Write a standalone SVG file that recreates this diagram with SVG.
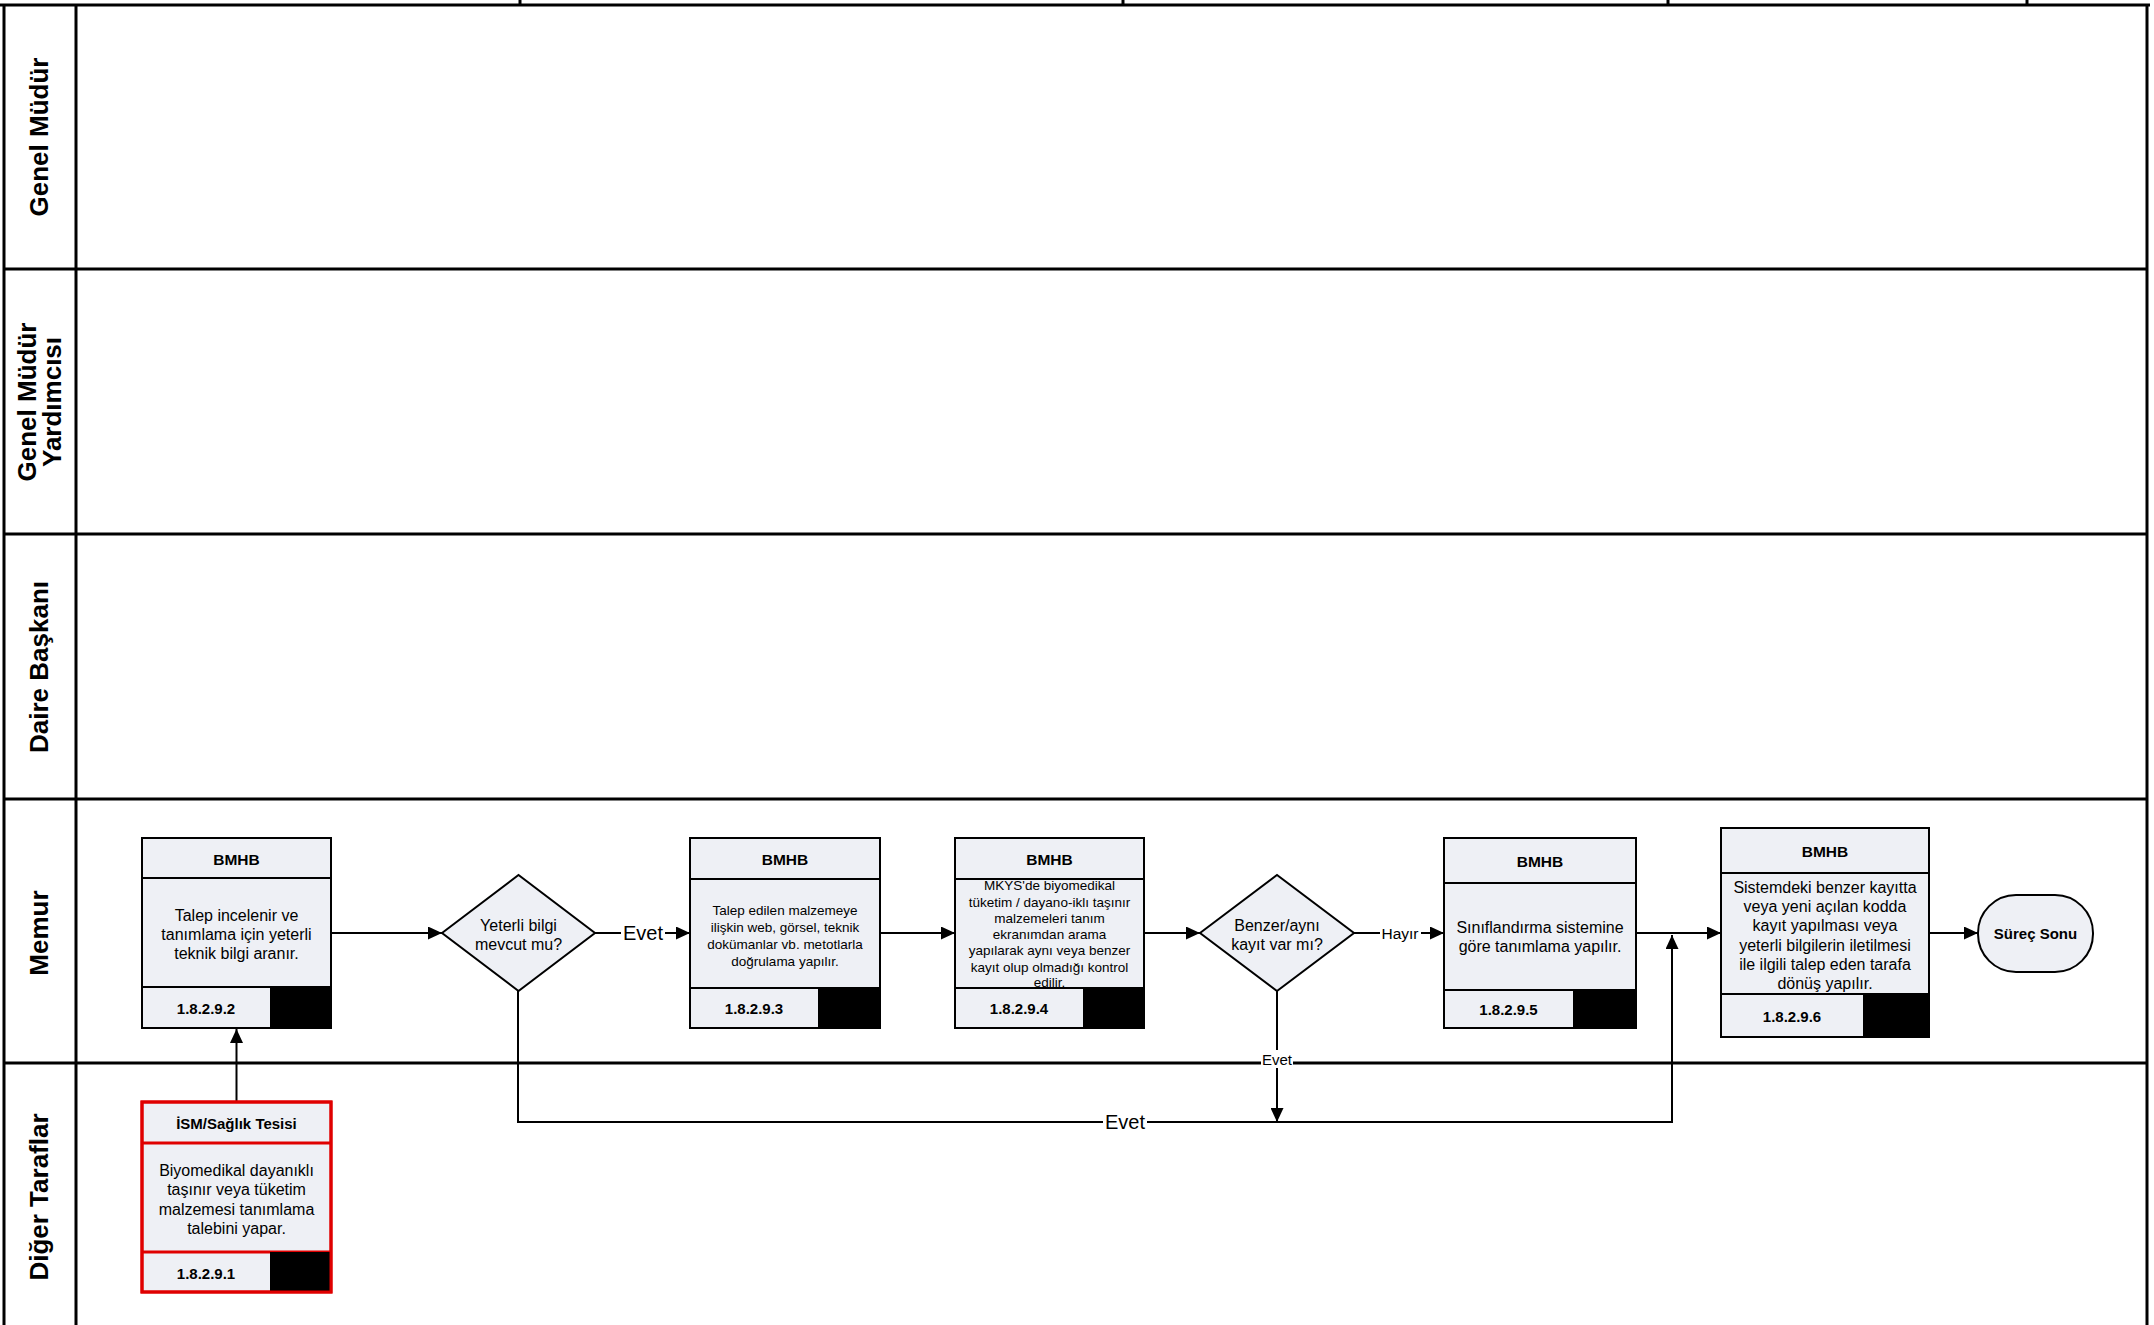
<svg xmlns="http://www.w3.org/2000/svg" width="2154" height="1325" viewBox="0 0 2154 1325">
<defs>
<style>
text{font-family:"Liberation Sans",Arial,sans-serif;fill:#000;}
.lane{stroke:#000;stroke-width:3;fill:none;}
.lbl{font-size:26px;font-weight:bold;text-anchor:middle;dominant-baseline:central;}
.box{fill:#eef0f5;stroke:#000;stroke-width:2;}
.rbox{fill:#eef0f5;stroke:#e00000;stroke-width:3;}
.blk{fill:#000;}
.hd{font-size:15.5px;font-weight:bold;text-anchor:middle;dominant-baseline:central;}
.id{font-size:15px;font-weight:bold;text-anchor:middle;dominant-baseline:central;}
.tx{font-size:16px;text-anchor:middle;dominant-baseline:central;}
.ts{font-size:13.5px;text-anchor:middle;dominant-baseline:central;}
.cn{stroke:#000;stroke-width:2;fill:none;}
.cl{font-size:20px;text-anchor:middle;dominant-baseline:central;}
.cs{font-size:15px;text-anchor:middle;dominant-baseline:central;}
.bg{fill:#fff;}
</style>
<marker id="ar" markerUnits="userSpaceOnUse" markerWidth="15" markerHeight="13" refX="14" refY="6.5" orient="auto">
<path d="M0,0 L14,6.5 L0,13 z" fill="#000"/>
</marker>
</defs>
<rect width="2154" height="1325" fill="#fff"/>

<g id="lanes">
<line class="lane" x1="0" y1="5" x2="2150" y2="5"/>
<line class="lane" x1="520" y1="0" x2="520" y2="5"/>
<line class="lane" x1="1123" y1="0" x2="1123" y2="5"/>
<line class="lane" x1="1668" y1="0" x2="1668" y2="5"/>
<line class="lane" x1="2027" y1="0" x2="2027" y2="5"/>
<line class="lane" x1="4" y1="5" x2="4" y2="1325"/>
<line class="lane" x1="76" y1="5" x2="76" y2="1325"/>
<line class="lane" x1="2147" y1="5" x2="2147" y2="1325"/>
<line class="lane" x1="4" y1="269" x2="2147" y2="269"/>
<line class="lane" x1="4" y1="534" x2="2147" y2="534"/>
<line class="lane" x1="4" y1="799" x2="2147" y2="799"/>
<line class="lane" x1="4" y1="1063" x2="2147" y2="1063"/>
<text class="lbl" transform="translate(39,137) rotate(-90)">Genel Müdür</text>
<text class="lbl" transform="translate(27,402) rotate(-90)">Genel Müdür</text>
<text class="lbl" transform="translate(52,402) rotate(-90)">Yardımcısı</text>
<text class="lbl" transform="translate(39,667) rotate(-90)">Daire Başkanı</text>
<text class="lbl" transform="translate(39,933) rotate(-90)">Memur</text>
<text class="lbl" transform="translate(39,1197) rotate(-90)">Diğer Taraflar</text>
</g>

<g id="connectors">
<line class="cn" x1="236.5" y1="1102" x2="236.5" y2="1029" marker-end="url(#ar)"/>
<line class="cn" x1="331" y1="933" x2="442" y2="933" marker-end="url(#ar)"/>
<line class="cn" x1="595" y1="933" x2="690" y2="933" marker-end="url(#ar)"/>
<line class="cn" x1="880" y1="933" x2="955" y2="933" marker-end="url(#ar)"/>
<line class="cn" x1="1144" y1="933" x2="1200" y2="933" marker-end="url(#ar)"/>
<line class="cn" x1="1354" y1="933" x2="1444" y2="933" marker-end="url(#ar)"/>
<line class="cn" x1="1636" y1="933" x2="1721" y2="933" marker-end="url(#ar)"/>
<polyline class="cn" points="518,991 518,1122 1672,1122 1672,935" marker-end="url(#ar)"/>
<line class="cn" x1="1277" y1="991" x2="1277" y2="1122" marker-end="url(#ar)"/>
<line class="cn" x1="1929" y1="933" x2="1978" y2="933" marker-end="url(#ar)"/>
<rect class="bg" x="621" y="921" width="44" height="24"/>
<text class="cl" x="643" y="933">Evet</text>
<rect class="bg" x="1380" y="923" width="41" height="20"/>
<text class="cs" x="1400" y="933" style="font-size:15.5px">Hayır</text>
<rect class="bg" x="1103" y="1110" width="44" height="24"/>
<text class="cl" x="1125" y="1122">Evet</text>
<rect class="bg" x="1261" y="1050" width="32" height="18"/>
<text class="cs" x="1277" y="1059">Evet</text>
</g>

<g id="n1829_1">
<rect class="rbox" x="142" y="1102" width="189" height="190"/>
<line stroke="#e00000" stroke-width="3" x1="142" y1="1143" x2="331" y2="1143"/>
<line stroke="#e00000" stroke-width="3" x1="142" y1="1252" x2="331" y2="1252"/>
<rect class="blk" x="270" y="1252" width="61" height="40"/>
<rect fill="none" stroke="#e00000" stroke-width="3" x="142" y="1102" width="189" height="190"/>
<text class="hd" x="236.5" y="1123" style="font-size:15px">İSM/Sağlık Tesisi</text>
<text class="tx" x="236.5" y="1170">Biyomedikal dayanıklı</text>
<text class="tx" x="236.5" y="1189">taşınır veya tüketim</text>
<text class="tx" x="236.5" y="1209">malzemesi tanımlama</text>
<text class="tx" x="236.5" y="1228">talebini yapar.</text>
<text class="id" x="206" y="1273">1.8.2.9.1</text>
</g>

<g id="n1829_2">
<rect class="box" x="142" y="838" width="189" height="190"/>
<line class="cn" x1="142" y1="878" x2="331" y2="878"/>
<line class="cn" x1="142" y1="987" x2="331" y2="987"/>
<rect class="blk" x="270" y="987" width="61" height="41"/>
<text class="hd" x="236.5" y="859">BMHB</text>
<text class="tx" x="236.5" y="915">Talep incelenir ve</text>
<text class="tx" x="236.5" y="934">tanımlama için yeterli</text>
<text class="tx" x="236.5" y="953">teknik bilgi aranır.</text>
<text class="id" x="206" y="1008">1.8.2.9.2</text>
</g>

<g id="d_yeterli">
<polygon class="box" points="442,933 518.5,875 595,933 518.5,991"/>
<text class="tx" x="518.5" y="925">Yeterli bilgi</text>
<text class="tx" x="518.5" y="944">mevcut mu?</text>
</g>

<g id="n1829_3">
<rect class="box" x="690" y="838" width="190" height="190"/>
<line class="cn" x1="690" y1="879" x2="880" y2="879"/>
<line class="cn" x1="690" y1="988" x2="880" y2="988"/>
<rect class="blk" x="818" y="988" width="62" height="40"/>
<text class="hd" x="785" y="859">BMHB</text>
<text class="ts" x="785" y="910">Talep edilen malzemeye</text>
<text class="ts" x="785" y="927">ilişkin web, görsel, teknik</text>
<text class="ts" x="785" y="944">dokümanlar vb. metotlarla</text>
<text class="ts" x="785" y="961">doğrulama yapılır.</text>
<text class="id" x="754" y="1008">1.8.2.9.3</text>
</g>

<g id="n1829_4">
<rect class="box" x="955" y="838" width="189" height="190"/>
<line class="cn" x1="955" y1="879" x2="1144" y2="879"/>
<text class="hd" x="1049.5" y="859">BMHB</text>
<text class="ts" x="1049.5" y="885">MKYS'de biyomedikal</text>
<text class="ts" x="1049.5" y="902">tüketim / dayano-iklı taşınır</text>
<text class="ts" x="1049.5" y="918">malzemeleri tanım</text>
<text class="ts" x="1049.5" y="934">ekranımdan arama</text>
<text class="ts" x="1049.5" y="950">yapılarak aynı veya benzer</text>
<text class="ts" x="1049.5" y="967">kayıt olup olmadığı kontrol</text>
<text class="ts" x="1049.5" y="982">edilir.</text>
<line class="cn" x1="955" y1="988" x2="1144" y2="988"/>
<rect class="box" x="955" y="988" width="189" height="40"/>
<rect class="blk" x="1083" y="988" width="61" height="40"/>
<text class="id" x="1019" y="1008">1.8.2.9.4</text>
</g>

<g id="d_benzer">
<polygon class="box" points="1200,933 1277,875 1354,933 1277,991"/>
<text class="tx" x="1277" y="925">Benzer/aynı</text>
<text class="tx" x="1277" y="944">kayıt var mı?</text>
</g>

<g id="n1829_5">
<rect class="box" x="1444" y="838" width="192" height="190"/>
<line class="cn" x1="1444" y1="883" x2="1636" y2="883"/>
<line class="cn" x1="1444" y1="990" x2="1636" y2="990"/>
<rect class="blk" x="1573" y="990" width="63" height="38"/>
<text class="hd" x="1540" y="861">BMHB</text>
<text class="tx" x="1540" y="927">Sınıflandırma sistemine</text>
<text class="tx" x="1540" y="946">göre tanımlama yapılır.</text>
<text class="id" x="1508.5" y="1009">1.8.2.9.5</text>
</g>

<g id="n1829_6">
<rect class="box" x="1721" y="828" width="208" height="209"/>
<line class="cn" x1="1721" y1="873" x2="1929" y2="873"/>
<line class="cn" x1="1721" y1="994" x2="1929" y2="994"/>
<rect class="blk" x="1863" y="994" width="66" height="43"/>
<text class="hd" x="1825" y="851">BMHB</text>
<text class="tx" x="1825" y="887">Sistemdeki benzer kayıtta</text>
<text class="tx" x="1825" y="906">veya yeni açılan kodda</text>
<text class="tx" x="1825" y="925.5">kayıt yapılması veya</text>
<text class="tx" x="1825" y="945">yeterli bilgilerin iletilmesi</text>
<text class="tx" x="1825" y="964">ile ilgili talep eden tarafa</text>
<text class="tx" x="1825" y="983">dönüş yapılır.</text>
<text class="id" x="1792" y="1016">1.8.2.9.6</text>
</g>

<g id="surec_sonu">
<rect class="box" x="1978" y="895" width="115" height="77" rx="38" ry="38"/>
<text class="hd" x="2035.5" y="933" style="font-size:15px">Süreç Sonu</text>
</g>
</svg>
